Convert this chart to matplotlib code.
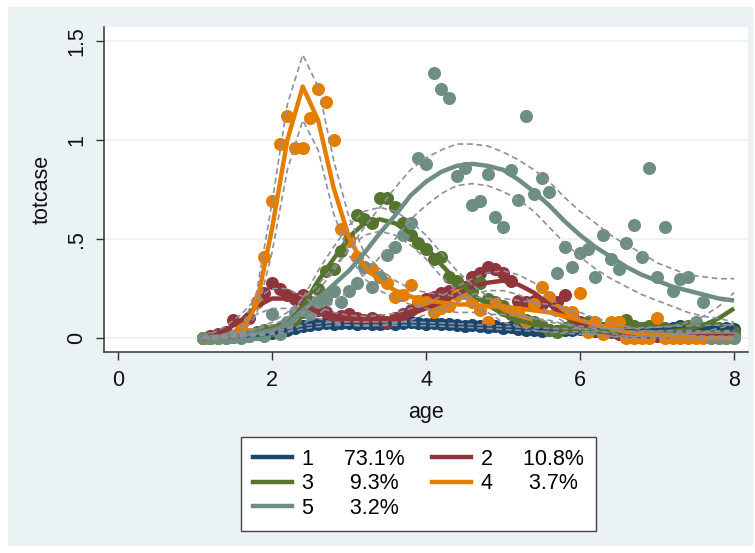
import matplotlib
matplotlib.use("Agg")
import numpy as np
import matplotlib.pyplot as plt
from matplotlib.patches import Rectangle

plt.rcParams['font.family'] = ['Liberation Sans', 'DejaVu Sans']

# observed group means, one per age step
ages = [1.1, 1.2, 1.3, 1.4, 1.5, 1.6, 1.7, 1.8, 1.9, 2.0,
        2.1, 2.2, 2.3, 2.4, 2.5, 2.6, 2.7, 2.8, 2.9, 3.0,
        3.1, 3.2, 3.3, 3.4, 3.5, 3.6, 3.7, 3.8, 3.9, 4.0,
        4.1, 4.2, 4.3, 4.4, 4.5, 4.6, 4.7, 4.8, 4.9, 5.0,
        5.1, 5.2, 5.3, 5.4, 5.5, 5.6, 5.7, 5.8, 5.9, 6.0,
        6.1, 6.2, 6.3, 6.4, 6.5, 6.6, 6.7, 6.8, 6.9, 7.0,
        7.1, 7.2, 7.3, 7.4, 7.5, 7.6, 7.7, 7.8, 7.9, 8.0]

obs1 = [0.0, 0.0, 0.005, 0.01, 0.01, 0.01, 0.015, 0.02, 0.02, 0.025,
        0.03, 0.04, 0.05, 0.06, 0.065, 0.07, 0.075, 0.07, 0.075, 0.075,
        0.07, 0.075, 0.07, 0.07, 0.075, 0.07, 0.075, 0.08, 0.075, 0.07,
        0.075, 0.07, 0.07, 0.065, 0.06, 0.065, 0.06, 0.055, 0.06, 0.05,
        0.055, 0.045, 0.04, 0.04, 0.035, 0.04, 0.035, 0.04, 0.04, 0.045,
        0.04, 0.035, 0.04, 0.045, 0.04, 0.035, 0.04, 0.05, 0.045, 0.04,
        0.045, 0.05, 0.06, 0.055, 0.05, 0.045, 0.05, 0.045, 0.05, 0.045]

obs2 = [0.0, 0.01, 0.02, 0.03, 0.09, 0.06, 0.1, 0.18, 0.23, 0.28,
        0.25, 0.22, 0.2, 0.22, 0.18, 0.14, 0.13, 0.1, 0.11, 0.12,
        0.1, 0.09, 0.1, 0.09, 0.08, 0.1, 0.12, 0.14, 0.17, 0.2,
        0.21, 0.23, 0.24, 0.24, 0.26, 0.31, 0.33, 0.36, 0.35, 0.33,
        0.29, 0.19, 0.18, 0.19, 0.17, 0.2, 0.18, 0.22, 0.12, 0.08,
        0.06, 0.04, 0.05, 0.03, 0.02, 0.03, 0.02, 0.01, 0.02, 0.01,
        0.02, 0.01, 0.01, 0.02, 0.01, 0.01, 0.02, 0.01, 0.01, 0.01]

obs3 = [0.0, 0.0, 0.0, 0.005, 0.005, 0.01, 0.01, 0.03, 0.04, 0.04,
        0.05, 0.06, 0.09, 0.13, 0.17, 0.25, 0.34, 0.35, 0.44, 0.5,
        0.62, 0.6, 0.58, 0.71, 0.71, 0.66, 0.58, 0.52, 0.48, 0.45,
        0.4, 0.41, 0.31, 0.29, 0.25, 0.24, 0.28, 0.2, 0.18, 0.16,
        0.12, 0.1, 0.09, 0.08, 0.06, 0.04, 0.03, 0.05, 0.07, 0.06,
        0.08, 0.06, 0.05, 0.07, 0.08, 0.09, 0.06, 0.05, 0.06, 0.07,
        0.05, 0.04, 0.05, 0.06, 0.04, 0.05, 0.06, 0.05, 0.04, 0.03]

obs4 = [0.0, 0.0, 0.0, 0.0, 0.01, 0.05, 0.02, 0.18, 0.41, 0.69,
        0.98, 1.12, 0.96, 0.96, 1.11, 1.26, 1.19, 1.0, 0.55, 0.49,
        0.41, 0.36, 0.35, 0.31, 0.28, 0.21, 0.22, 0.27, 0.19, 0.18,
        0.13, 0.15, 0.16, 0.22, 0.23, 0.18, 0.14, 0.08, 0.17, 0.14,
        0.13, 0.13, 0.08, 0.17, 0.26, 0.21, 0.14, 0.13, 0.13, 0.23,
        0.03, 0.08, 0.02, 0.08, 0.08, 0.0, 0.0, 0.0, 0.0, 0.1,
        0.0, 0.0, 0.0, 0.0, 0.0, 0.0, 0.0, 0.0, 0.0, 0.0]

obs5 = [0.0, 0.0, 0.0, 0.0, 0.005, 0.0, 0.01, 0.02, 0.01, 0.12,
        0.02, 0.08, 0.13, 0.14, 0.12, 0.18, 0.2, 0.24, 0.18, 0.24,
        0.28, 0.36, 0.26, 0.31, 0.42, 0.46, 0.52, 0.58, 0.91, 0.88,
        1.34, 1.26, 1.21, 0.82, 0.86, 0.67, 0.69, 0.83, 0.61, 0.56,
        0.85, 0.7, 1.12, 0.73, 0.81, 0.74, 0.33, 0.46, 0.36, 0.43,
        0.45, 0.31, 0.52, 0.4, 0.35, 0.48, 0.57, 0.41, 0.86, 0.31,
        0.56, 0.24, 0.3, 0.31, 0.08, 0.18, 0.0, 0.0, 0.0, 0.0]

# predicted trajectories and 95% bounds
fit_ages = [1.1, 1.2, 1.4, 1.6, 1.8, 2.0, 2.2, 2.4, 2.6, 2.8, 3.0, 3.2,
            3.4, 3.6, 3.8, 4.0, 4.2, 4.4, 4.6, 4.8, 5.0, 5.2, 5.4, 5.6,
            5.8, 6.0, 6.2, 6.4, 6.6, 6.8, 7.0, 7.2, 7.4, 7.6, 7.8, 8.0]

fit1 = [0.0, 0.003, 0.007, 0.012, 0.018, 0.026, 0.04, 0.055, 0.066, 0.072, 0.074, 0.074,
        0.073, 0.073, 0.073, 0.071, 0.068, 0.065, 0.061, 0.057, 0.052, 0.048, 0.044, 0.041,
        0.04, 0.04, 0.04, 0.041, 0.042, 0.044, 0.046, 0.048, 0.05, 0.05, 0.05, 0.049]
hi1 = [0.003, 0.006, 0.011, 0.017, 0.024, 0.033, 0.048, 0.063, 0.074, 0.08, 0.082, 0.082,
       0.081, 0.081, 0.081, 0.079, 0.076, 0.073, 0.069, 0.065, 0.06, 0.056, 0.052, 0.049,
       0.048, 0.048, 0.048, 0.049, 0.05, 0.053, 0.056, 0.059, 0.062, 0.064, 0.066, 0.068]
lo1 = [0.0, 0.0, 0.003, 0.007, 0.012, 0.019, 0.032, 0.047, 0.058, 0.064, 0.066, 0.066,
       0.065, 0.065, 0.065, 0.063, 0.06, 0.057, 0.053, 0.049, 0.044, 0.04, 0.036, 0.033,
       0.032, 0.032, 0.032, 0.033, 0.034, 0.035, 0.036, 0.037, 0.038, 0.036, 0.034, 0.03]

fit2 = [0.0, 0.01, 0.04, 0.09, 0.16, 0.2, 0.2, 0.17, 0.13, 0.1, 0.09, 0.085,
        0.09, 0.1, 0.12, 0.15, 0.18, 0.22, 0.26, 0.28, 0.29, 0.27, 0.23, 0.17,
        0.11, 0.07, 0.04, 0.025, 0.015, 0.01, 0.01, 0.01, 0.01, 0.01, 0.01, 0.01]
hi2 = [0.005, 0.02, 0.06, 0.12, 0.2, 0.25, 0.25, 0.21, 0.16, 0.13, 0.115, 0.11,
       0.115, 0.125, 0.15, 0.18, 0.21, 0.26, 0.3, 0.33, 0.34, 0.32, 0.28, 0.21,
       0.145, 0.1, 0.065, 0.045, 0.03, 0.025, 0.025, 0.025, 0.03, 0.03, 0.035, 0.04]
lo2 = [0.0, 0.0, 0.02, 0.06, 0.12, 0.15, 0.15, 0.13, 0.1, 0.075, 0.065, 0.06,
       0.065, 0.075, 0.09, 0.12, 0.15, 0.18, 0.22, 0.24, 0.24, 0.22, 0.18, 0.13,
       0.08, 0.045, 0.02, 0.01, 0.0, 0.0, 0.0, 0.0, 0.0, 0.0, 0.0, 0.0]

fit3 = [0.0, 0.0, 0.005, 0.015, 0.03, 0.045, 0.07, 0.16, 0.29, 0.4, 0.51, 0.58,
        0.6, 0.58, 0.53, 0.46, 0.37, 0.29, 0.22, 0.17, 0.12, 0.09, 0.07, 0.055,
        0.045, 0.04, 0.035, 0.03, 0.03, 0.03, 0.03, 0.035, 0.045, 0.065, 0.1, 0.15]
hi3 = [0.005, 0.005, 0.012, 0.025, 0.045, 0.065, 0.1, 0.2, 0.34, 0.46, 0.57, 0.64,
       0.66, 0.64, 0.59, 0.52, 0.43, 0.34, 0.27, 0.21, 0.16, 0.12, 0.1, 0.08,
       0.07, 0.06, 0.055, 0.05, 0.05, 0.05, 0.055, 0.06, 0.08, 0.11, 0.16, 0.23]
lo3 = [0.0, 0.0, 0.0, 0.005, 0.015, 0.025, 0.045, 0.12, 0.24, 0.34, 0.45, 0.52,
       0.54, 0.52, 0.47, 0.4, 0.31, 0.24, 0.17, 0.13, 0.08, 0.06, 0.04, 0.03,
       0.025, 0.02, 0.015, 0.01, 0.01, 0.01, 0.01, 0.015, 0.02, 0.03, 0.05, 0.07]

fit4 = [0.0, 0.0, 0.005, 0.03, 0.17, 0.55, 1.0, 1.27, 1.1, 0.76, 0.51, 0.36,
        0.29, 0.24, 0.21, 0.19, 0.18, 0.17, 0.17, 0.16, 0.16, 0.15, 0.14, 0.13,
        0.11, 0.09, 0.07, 0.05, 0.03, 0.02, 0.015, 0.01, 0.005, 0.0, 0.0, 0.0]
hi4 = [0.0, 0.0, 0.01, 0.05, 0.23, 0.68, 1.18, 1.43, 1.27, 0.9, 0.61, 0.43,
       0.35, 0.29, 0.25, 0.23, 0.22, 0.21, 0.21, 0.2, 0.2, 0.19, 0.18, 0.17,
       0.15, 0.13, 0.1, 0.08, 0.06, 0.04, 0.03, 0.02, 0.015, 0.01, 0.01, 0.01]
lo4 = [0.0, 0.0, 0.0, 0.015, 0.12, 0.43, 0.85, 1.1, 0.95, 0.63, 0.42, 0.3,
       0.24, 0.2, 0.17, 0.15, 0.14, 0.13, 0.13, 0.12, 0.12, 0.11, 0.1, 0.09,
       0.07, 0.05, 0.04, 0.025, 0.01, 0.005, 0.0, 0.0, 0.0, 0.0, 0.0, 0.0]

fit5 = [0.0, 0.005, 0.01, 0.015, 0.025, 0.04, 0.07, 0.14, 0.2, 0.27, 0.34, 0.43,
        0.53, 0.62, 0.72, 0.79, 0.84, 0.87, 0.88, 0.87, 0.85, 0.8, 0.74, 0.67,
        0.59, 0.52, 0.46, 0.41, 0.36, 0.32, 0.29, 0.26, 0.24, 0.22, 0.2, 0.19]
hi5 = [0.01, 0.01, 0.02, 0.03, 0.05, 0.08, 0.13, 0.2, 0.27, 0.36, 0.45, 0.56,
       0.66, 0.76, 0.85, 0.91, 0.95, 0.98, 0.98, 0.97, 0.94, 0.9, 0.85, 0.79,
       0.71, 0.64, 0.58, 0.52, 0.47, 0.43, 0.38, 0.35, 0.32, 0.31, 0.3, 0.3]
lo5 = [0.0, 0.0, 0.0, 0.01, 0.02, 0.02, 0.03, 0.07, 0.12, 0.18, 0.24, 0.32,
       0.41, 0.5, 0.6, 0.67, 0.73, 0.77, 0.78, 0.77, 0.74, 0.7, 0.64, 0.56,
       0.48, 0.41, 0.35, 0.3, 0.26, 0.22, 0.19, 0.16, 0.13, 0.11, 0.1, 0.08]

groups = ['1', '2', '3', '4', '5']
shares = ['73.1%', '10.8%', '9.3%', '3.7%', '3.2%']
colors = ['#1a476f', '#90353b', '#55752f', '#e37e00', '#6e8e84']

observed = [obs1, obs2, obs3, obs4, obs5]
fitted = [fit1, fit2, fit3, fit4, fit5]
upper = [hi1, hi2, hi3, hi4, hi5]
lower = [lo1, lo2, lo3, lo4, lo5]

W, H = 755, 553
fig = plt.figure(figsize=(W / 100, H / 100), dpi=100)
fig.patch.set_facecolor('white')
fig.add_artist(Rectangle((8 / W, 1 - 546 / H), 745 / W, 539 / H,
                         transform=fig.transFigure, facecolor='#eaf2f3',
                         edgecolor='none', zorder=-10))

ax = fig.add_axes([104 / W, 1 - 352 / H, 644 / W, 325 / H])
ax.set_facecolor('white')

for obs, c in zip(observed, colors):
    ax.plot(ages, obs, 'o', color=c, markersize=9.4, markeredgewidth=0, zorder=2)

for fit, c in zip(fitted, colors):
    ax.plot(fit_ages, fit, '-', color=c, lw=3.2, zorder=3, solid_capstyle='butt')

for hi, lo in zip(upper, lower):
    for band in (hi, lo):
        ax.plot(fit_ages, band, color='#8e8e9c', lw=1.2, dashes=(3.5, 2.2), zorder=4)

ax.set_xlim(-0.18, 8.18)
ax.set_ylim(-0.07, 1.571)
ax.set_xticks([0, 2, 4, 6, 8])
ax.set_xticklabels(['0', '2', '4', '6', '8'])
ax.set_yticks([0, 0.5, 1, 1.5])
ax.set_yticklabels(['0', '.5', '1', '1.5'], rotation=90, va='center')
ax.tick_params(axis='both', labelsize=15.5, length=6, width=1, color='#333333',
               labelcolor='#111111')
ax.tick_params(axis='x', pad=7)
ax.tick_params(axis='y', pad=6)

for s in ('top', 'right'):
    ax.spines[s].set_visible(False)
for s in ('left', 'bottom'):
    ax.spines[s].set_color('#333333')
    ax.spines[s].set_linewidth(1.1)

ax.yaxis.grid(True, color='#eaf2f3', lw=1.3)
ax.set_axisbelow(True)

ax.set_xlabel('age', fontsize=15.5, labelpad=8, color='#111111')
ax.set_ylabel('totcase', fontsize=15.5, labelpad=10, color='#111111')

# legend rows read 1 2 / 3 4 / 5, matplotlib fills by column
labels = [g + ('     ' if len(p) == 5 else '      ') + p for g, p in zip(groups, shares)]
order = [0, 2, 4, 1, 3]
leg_handles = [plt.Line2D([], [], color=colors[i], lw=3.2) for i in order]
leg = fig.legend(leg_handles, [labels[i] for i in order], ncol=2,
                 loc='upper center', bbox_to_anchor=(418.5 / W, 1 - 437 / H),
                 borderaxespad=0, fontsize=15.5, frameon=True, fancybox=False,
                 framealpha=1, edgecolor='#444444', handlelength=1.8,
                 handletextpad=0.45, columnspacing=1.3, labelspacing=0.16,
                 borderpad=0.55)
leg.get_frame().set_linewidth(1.0)

fig.savefig('out.png', dpi=100, facecolor=fig.get_facecolor())
